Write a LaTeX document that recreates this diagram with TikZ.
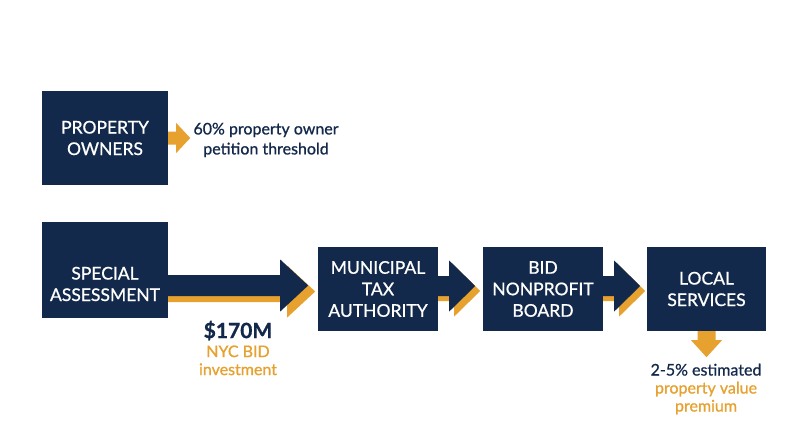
\documentclass[tikz,border=0pt]{standalone}
\usepackage{fontspec}
\setmainfont{Lato}
\newfontfamily\medfont{Lato}[FakeBold=0.8]
\usetikzlibrary{calc}
\definecolor{navy}{HTML}{13294B}
\definecolor{gold}{HTML}{E6A12E}
\newcommand{\blkarrow}[6]{%
  \fill[#6] (#1) ++(0,-#4) -- ++(#2,0) -- ++(0,{#4-#5}) -- ++(#3,#5) -- ++(-#3,#5) -- ++(0,{#4-#5}) -- ++(-#2,0) -- cycle;}
\tikzset{
  box/.style={fill=navy, text=white, align=center, inner sep=0pt,
    font=\medfont\fontsize{17.5}{21.5}\selectfont},
  boxtext/.style={text=white, align=center, inner sep=0pt,
    font=\medfont\fontsize{17.5}{21.5}\selectfont},
  note/.style={align=center, text=navy, font=\medfont\fontsize{16}{18}\selectfont}
}
\begin{document}
\begin{tikzpicture}[x=1pt,y=-1pt]
\useasboundingbox[fill=white] (0,0) rectangle (800,447);
\node[box, minimum width=126pt, minimum height=94pt] (po) at (105,138) {PROPERTY\\OWNERS};
\node[box, minimum width=126pt, minimum height=96pt] (sa) at (105,270) {};
\node[boxtext] (satext) at (105,284) {SPECIAL\\ASSESSMENT};
\node[box, minimum width=120pt, minimum height=84pt] (mta) at (378,289) {MUNICIPAL\\TAX\\AUTHORITY};
\node[box, minimum width=120pt, minimum height=84pt] (bid) at (543,289) {BID\\NONPROFIT\\BOARD};
\node[box, minimum width=119pt, minimum height=84pt] (ls) at (706.5,289) {LOCAL\\SERVICES};
% small arrow
\coordinate (p0) at (po.east);
\blkarrow{p0}{8}{14}{6.5}{15}{gold}
% arrow 1
\coordinate (a1) at ($(sa.east)+(0,15.5)$);
\coordinate (a1o) at ($(a1)+(0,6)$);
\blkarrow{a1o}{119}{28}{10.5}{26}{gold}
\blkarrow{a1}{112}{28}{10.5}{26}{navy}
% arrow 2
\coordinate (a2) at ($(mta.east)+(0,-3)$);
\coordinate (a2o) at ($(a2)+(0,5)$);
\blkarrow{a2o}{16}{26}{10}{25.5}{gold}
\blkarrow{a2}{11}{26}{10}{25.5}{navy}
% arrow 3
\coordinate (a3) at ($(bid.east)+(0,-3)$);
\coordinate (a3o) at ($(a3)+(0,5)$);
\blkarrow{a3o}{16}{26}{10}{25.5}{gold}
\blkarrow{a3}{11}{26}{10}{25.5}{navy}
% down arrow
\fill[gold] (ls.south) ++(-9,0) -- ++(0,9) -- ++(-6.5,0) -- ++(15.5,17) -- ++(15.5,-17) -- ++(-6.5,0) -- ++(0,-9) -- cycle;
% notes
\node[note, font=\medfont\fontsize{16}{20}\selectfont] (t1) at (266,140) {60\% property owner\\petition threshold};
\node[note] (t2) at (238,348) {{\fontsize{21}{22}\selectfont\bfseries \$170M}\\[1pt]\textcolor{gold}{NYC BID}\\\textcolor{gold}{investment}};
\node[note] (t3) at (706,389) {2-5\% estimated\\\textcolor{gold}{property value}\\\textcolor{gold}{premium}};
\end{tikzpicture}
\end{document}
